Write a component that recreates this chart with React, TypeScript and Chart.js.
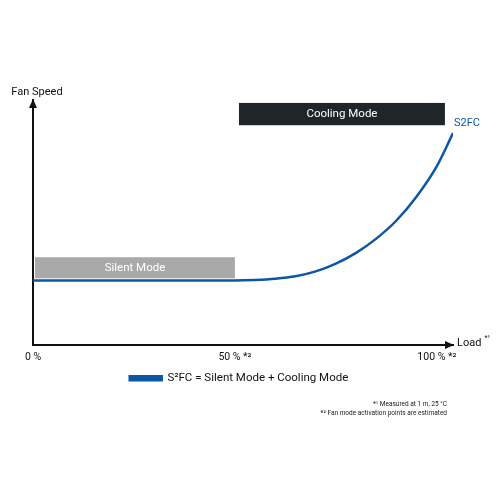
import React, { useEffect, useRef } from "react";
import { Chart, registerables } from "chart.js";

Chart.register(...registerables);

const loadPct = [0, 10, 20, 30, 40, 50, 55, 60, 65, 70, 75, 80, 85, 90, 95, 100, 104];
const fanSpeed = [26.3, 26.3, 26.3, 26.3, 26.3, 26.3, 26.5, 27.0, 28.0, 30.0, 33.2, 37.6, 43.4, 50.8, 60.6, 73.0, 86.5];

const xTickValues = [0, 50, 100];
const xTickLabels = ["0 %", "50 % *²", "100 % *²"];

const modeNames = ["Silent Mode", "Cooling Mode"];
const modeLoadFrom = [0.5, 51];
const modeLoadTo = [50, 102];
const modeSpeedLow = [27.2, 89.7];
const modeSpeedHigh = [35.8, 98.8];
const modeColors = ["#a9a9a9", "#1f2628"];

const footnotes = ["*¹ Measured at 1 m, 25 °C", "*² Fan mode activation points are estimated"];

const FONT = "Roboto, 'Noto Sans', sans-serif";
const LINE_COLOR = "#0b57a4";

const decorPlugin = {
  id: "decor",
  beforeDatasetsDraw(chart: any) {
    const { ctx, scales } = chart;
    const x = scales.x;
    const y = scales.y;
    ctx.save();
    for (let i = 0; i < modeNames.length; i++) {
      const x0 = x.getPixelForValue(modeLoadFrom[i]);
      const x1 = x.getPixelForValue(modeLoadTo[i]);
      const y0 = y.getPixelForValue(modeSpeedHigh[i]);
      const y1 = y.getPixelForValue(modeSpeedLow[i]);
      ctx.fillStyle = modeColors[i];
      ctx.fillRect(x0, y0, x1 - x0, y1 - y0);
      ctx.fillStyle = "#ffffff";
      ctx.font = `11.5px ${FONT}`;
      ctx.textAlign = "center";
      ctx.textBaseline = "middle";
      ctx.fillText(modeNames[i], (x0 + x1) / 2, (y0 + y1) / 2);
    }
    ctx.restore();
  },
  afterDraw(chart: any) {
    const { ctx, chartArea } = chart;
    const { left, right, top, bottom } = chartArea;
    ctx.save();
    ctx.fillStyle = "#111";
    ctx.beginPath();
    ctx.moveTo(left, top - 1);
    ctx.lineTo(left - 4, top + 8);
    ctx.lineTo(left + 4, top + 8);
    ctx.closePath();
    ctx.fill();
    ctx.beginPath();
    ctx.moveTo(right + 1, bottom);
    ctx.lineTo(right - 8, bottom - 4);
    ctx.lineTo(right - 8, bottom + 4);
    ctx.closePath();
    ctx.fill();
    ctx.font = `11px ${FONT}`;
    ctx.textBaseline = "middle";
    ctx.textAlign = "center";
    ctx.fillText("Fan Speed", left + 4, top - 8);
    ctx.textAlign = "left";
    ctx.fillText("Load", right + 4, bottom - 2);
    const lw = ctx.measureText("Load").width;
    ctx.font = `7px ${FONT}`;
    ctx.fillText("*¹", right + 7 + lw, bottom - 7);
    const meta = chart.getDatasetMeta(0);
    const last = meta.data[meta.data.length - 1];
    ctx.fillStyle = LINE_COLOR;
    ctx.font = `11px ${FONT}`;
    ctx.fillText(chart.data.datasets[0].shortLabel, last.x + 1, last.y - 10);
    ctx.fillStyle = "#222";
    ctx.font = `6.5px ${FONT}`;
    ctx.textAlign = "right";
    footnotes.forEach((t, i) => ctx.fillText(t, 447, 404 + i * 9));
    ctx.restore();
  },
};

export default function App() {
  const ref = useRef<HTMLCanvasElement>(null);
  useEffect(() => {
    if (!ref.current) return;
    const chart = new Chart(ref.current, {
      type: "line",
      data: {
        datasets: [
          {
            label: "S²FC = Silent Mode + Cooling Mode",
            shortLabel: "S2FC",
            data: loadPct.map((v, i) => ({ x: v, y: fanSpeed[i] })),
            borderColor: LINE_COLOR,
            backgroundColor: LINE_COLOR,
            borderWidth: 2.5,
            pointRadius: 0,
            cubicInterpolationMode: "monotone",
          } as any,
        ],
      },
      options: {
        animation: false,
        responsive: false,
        layout: { padding: { left: 25, right: 47, top: 100, bottom: 106 } },
        plugins: {
          legend: {
            position: "bottom",
            labels: {
              boxWidth: 32,
              boxHeight: 4,
              padding: 11,
              color: "#111",
              font: { family: FONT, size: 11.5 },
            },
          },
          tooltip: { enabled: false },
        },
        scales: {
          x: {
            type: "linear",
            min: 0,
            max: 104,
            grid: { display: false },
            border: { display: true, color: "#111", width: 2 },
            afterBuildTicks: (s: any) => {
              s.ticks = xTickValues.map((v) => ({ value: v }));
            },
            ticks: {
              padding: -2,
              maxRotation: 0,
              color: "#111",
              font: { family: FONT, size: 10.5 },
              callback: (v: any) => xTickLabels[xTickValues.indexOf(Number(v))] ?? "",
            },
          },
          y: {
            min: 0,
            max: 100,
            grid: { display: false },
            border: { display: true, color: "#111", width: 2 },
            ticks: { display: false },
          },
        },
      },
      plugins: [decorPlugin],
    });
    return () => chart.destroy();
  }, []);
  return (
    <div style={{ position: "absolute", left: 0, top: 0, width: 500, height: 500, background: "#fff" }}>
      <canvas ref={ref} width={500} height={500} />
    </div>
  );
}
